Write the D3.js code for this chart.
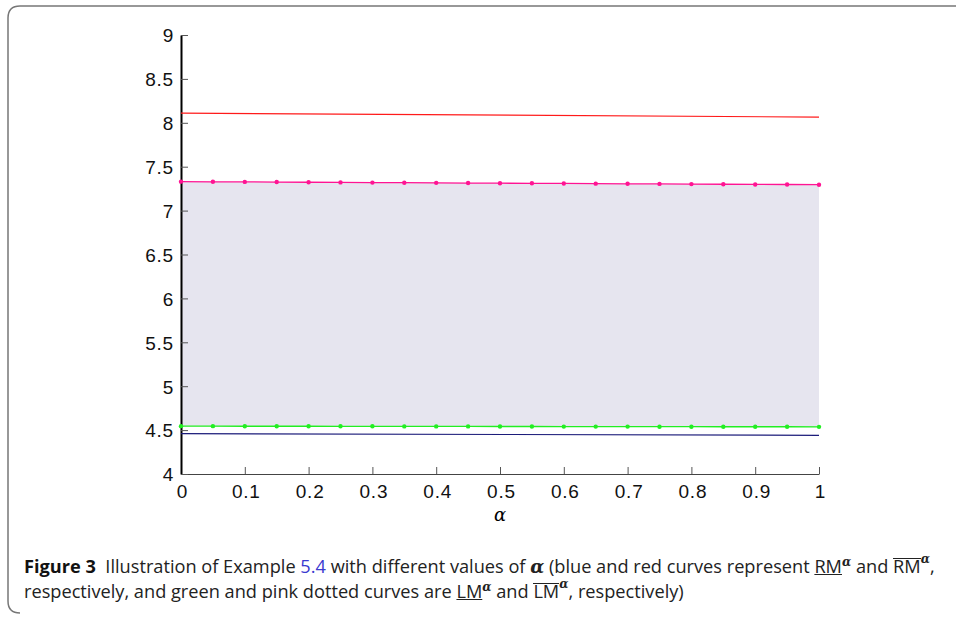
<!DOCTYPE html>
<html>
<head>
<meta charset="utf-8">
<script src="https://d3js.org/d3.v7.min.js"></script>
<style>
body { margin: 0; background: #fff; }
#wrap { position: relative; width: 956px; height: 617px; overflow: hidden; }
svg { position: absolute; left: 0; top: 0; }
#cap { position: absolute; left: 24px; top: 554px; width: 930px; white-space: nowrap;
       font-family: "Open Sans", "Noto Sans", sans-serif; font-size: 18.2px; line-height: 24px; color: #222; }
#cap b { font-weight: 700; color: #111; }
#cap .lk { color: #3a3ad0; }
#cap .ul { text-decoration: underline; }
#cap .ol { display: inline-block; line-height: 14px; border-top: 1.3px solid #222; }
#cap sup { font-family: "DejaVu Serif", serif; font-style: italic; font-weight: bold; font-size: 12px; vertical-align: 7px; line-height: 0; }
#cap sup.hi { vertical-align: 10px; }
#cap .al { font-family: "DejaVu Serif", serif; font-style: italic; font-weight: bold; }
.tk { font-family: "Liberation Sans", Arial, sans-serif; font-size: 19px; letter-spacing: 0.8px; fill: #111; }
</style>
</head>
<body>
<div id="wrap">
<svg width="956" height="617"></svg>
<div id="cap"><b>Figure 3</b>&nbsp; Illustration of Example <span class="lk">5.4</span> with different values of <span class="al">α</span> (blue and red curves represent <span class="ul">RM</span><sup>α</sup> and <span class="ol">RM</span><sup class="hi">α</sup>,<br>respectively, and green and pink dotted curves are <span class="ul">LM</span><sup>α</sup> and <span class="ol">LM</span><sup class="hi">α</sup>, respectively)</div>
</div>
<script>
// alpha grid and series
var alphas = [0, 0.05, 0.1, 0.15, 0.2, 0.25, 0.3, 0.35, 0.4, 0.45, 0.5,
              0.55, 0.6, 0.65, 0.7, 0.75, 0.8, 0.85, 0.9, 0.95, 1];
var lmUpper = [7.330, 7.328, 7.327, 7.325, 7.323, 7.321, 7.319, 7.318, 7.316, 7.314, 7.312,
               7.311, 7.309, 7.307, 7.305, 7.304, 7.302, 7.300, 7.298, 7.297, 7.295];
var lmLower = [4.545, 4.545, 4.544, 4.544, 4.544, 4.543, 4.543, 4.542, 4.542, 4.542, 4.541,
               4.541, 4.540, 4.540, 4.540, 4.539, 4.539, 4.538, 4.538, 4.538, 4.537];
var rmAlpha = [0, 1];
var rmUpper = [8.11, 8.065];
var rmLower = [4.46, 4.44];
var xTicks = [0, 0.1, 0.2, 0.3, 0.4, 0.5, 0.6, 0.7, 0.8, 0.9, 1];
var yTicks = [4, 4.5, 5, 5.5, 6, 6.5, 7, 7.5, 8, 8.5, 9];

var svg = d3.select("svg");

// outer frame (only left/top visible, rounded corner)
svg.append("path")
   .attr("d", "M 980 6 L 20 6 Q 8 6 8 18 L 8 601 Q 8 613 20 613")
   .attr("fill", "none").attr("stroke", "#777").attr("stroke-width", 1.5);

var x = d3.scaleLinear().domain([0, 1]).range([181, 819]),
    y = d3.scaleLinear().domain([4, 9]).range([474, 35]);

// shaded band between LM lower and LM upper
var band = d3.area()
    .x(function(d, i) { return x(alphas[i]); })
    .y0(function(d, i) { return y(lmLower[i]); })
    .y1(function(d, i) { return y(lmUpper[i]); });
svg.append("path").datum(alphas).attr("d", band).attr("fill", "#e6e5ef");

// axes, ticks pointing inward
var gx = svg.append("g").attr("transform", "translate(0,474)")
  .call(d3.axisTop(x).tickValues(xTicks).tickSize(7).tickSizeOuter(0).tickFormat(d3.format("")));
gx.selectAll("text").attr("y", 24).attr("dy", 0).attr("dx", 1);
var gy = svg.append("g").attr("transform", "translate(181,0)")
  .call(d3.axisRight(y).tickValues(yTicks).tickSize(7).tickSizeOuter(0).tickFormat(d3.format("")));
gy.selectAll("text").attr("x", -7).attr("text-anchor", "end").attr("dy", "0.36em");
[gx, gy].forEach(function(g) {
  g.attr("font-size", null).attr("font-family", null);
  g.select(".domain").attr("stroke", "#000");
  g.selectAll(".tick line").attr("stroke", "#555");
  g.selectAll("text").attr("class", "tk").attr("fill", null);
});
gy.select(".domain").attr("stroke-width", 2);
gx.select(".domain").attr("stroke", "#444");

svg.append("text").attr("x", x(0.5)).attr("y", 521).attr("text-anchor", "middle")
   .attr("font-family", "DejaVu Serif, serif").attr("font-style", "italic")
   .attr("font-size", 18).text("α");

var line = d3.line()
    .x(function(d) { return x(d[0]); })
    .y(function(d) { return y(d[1]); });

function draw(xs, ys, color, width) {
  svg.append("path").datum(d3.zip(xs, ys)).attr("d", line)
     .attr("fill", "none").attr("stroke", color).attr("stroke-width", width);
}
function dots(xs, ys, color) {
  svg.append("g").selectAll("circle").data(d3.zip(xs, ys)).join("circle")
     .attr("cx", function(d) { return x(d[0]); })
     .attr("cy", function(d) { return y(d[1]); })
     .attr("r", 2.2).attr("fill", color);
}

draw(rmAlpha, rmUpper, "#ff1a1a", 1.2);
draw(rmAlpha, rmLower, "#1c1c7a", 1.2);
draw(alphas, lmUpper, "#ff1493", 1.3);
dots(alphas, lmUpper, "#ff1493");
draw(alphas, lmLower, "#22ee22", 1.3);
dots(alphas, lmLower, "#22ee22");
</script>
</body>
</html>
